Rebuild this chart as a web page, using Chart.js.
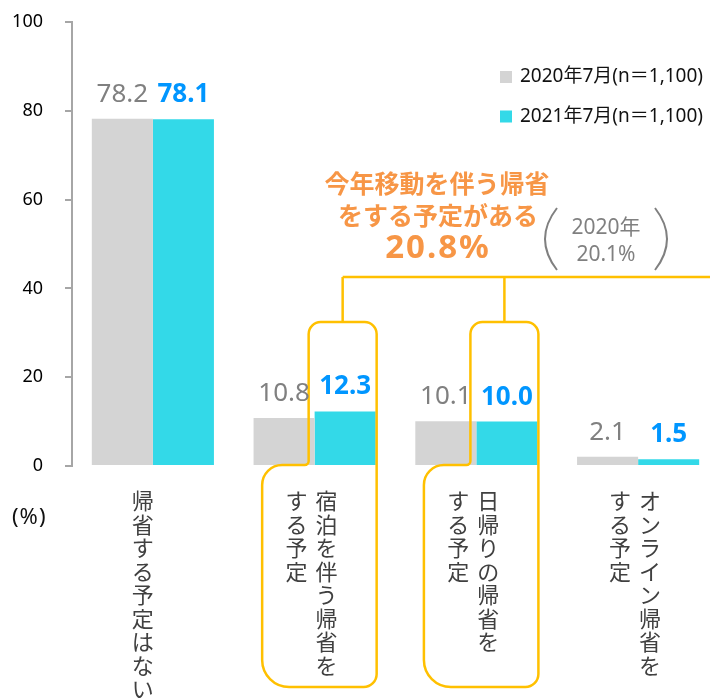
<!DOCTYPE html>
<html>
<head>
<meta charset="utf-8">
<script src="https://cdn.jsdelivr.net/npm/chart.js@4.4.1/dist/chart.umd.min.js"></script>
<style>
html, body { margin: 0; padding: 0; background: #fff; overflow: hidden; }
#wrap { width: 720px; height: 700px; position: relative; }
</style>
</head>
<body>
<div id="wrap"><canvas id="chart_homecoming"></canvas></div>
<script>
var categories = [
    ['帰省する予定はない'],
    ['宿泊を伴う帰省を', 'する予定'],
    ['日帰りの帰省を', 'する予定'],
    ['オンライン帰省を', 'する予定']
];
var seriesNames = ['2020年7月(n＝1,100)', '2021年7月(n＝1,100)'];
var values2020 = [78.2, 10.8, 10.1, 2.1];
var values2021 = [78.1, 12.3, 10.0, 1.5];
var yTicks = [0, 20, 40, 60, 80, 100];
var calloutLines = ['今年移動を伴う帰省', 'をする予定がある', '20.8%'];
var compareLines = ['2020年', '20.1%'];
var unitLabel = '(%)';
var calloutCategories = [1, 2];

var FONT = '"Noto Sans", "Noto Sans CJK JP", sans-serif';
var GRAY = '#d4d4d4';
var CYAN = '#33d9e8';
var YELLOW = '#ffc000';

Chart.defaults.font.family = FONT;

function roundedBox(ctx, bx, y0) {
    // outline round the 2021 bar, widening below the baseline
    var L1 = bx - 36.5, R = bx + 31.5, T = 322, N = y0 - 1, L2 = bx - 83, B = 687;
    ctx.beginPath();
    ctx.moveTo(L1, N - 6);
    ctx.arcTo(L1, T, R, T, 12);
    ctx.arcTo(R, T, R, B, 12);
    ctx.arcTo(R, B, L2, B, 13);
    ctx.arcTo(L2, B, L2, N, 27);
    ctx.arcTo(L2, N, L1, N, 20);
    ctx.arcTo(L1, N, L1, T, 4);
    ctx.closePath();
    ctx.stroke();
    return (L1 + R) / 2;
}

var overlay = {
    id: 'overlay',
    afterDatasetsDraw: (chart) => {
        const ctx = chart.ctx;
        const xs = chart.scales.x, ys = chart.scales.y;
        const y0 = ys.getPixelForValue(0);
        ctx.save();

        // yellow bracket and boxes
        ctx.strokeStyle = YELLOW;
        ctx.lineWidth = 2.5;
        const cyanMeta = chart.getDatasetMeta(1);
        const drops = calloutCategories.map(i => roundedBox(ctx, cyanMeta.data[i].x, y0));
        const lineY = 277;
        ctx.beginPath();
        ctx.moveTo(drops[0], lineY);
        ctx.lineTo(chart.width, lineY);
        drops.forEach(d => { ctx.moveTo(d, lineY); ctx.lineTo(d, 322); });
        ctx.stroke();

        // value labels
        ctx.textAlign = 'center';
        ctx.textBaseline = 'alphabetic';
        chart.data.datasets.forEach((ds, di) => {
            chart.getDatasetMeta(di).data.forEach((bar, i) => {
                ctx.font = (di ? 'bold ' : '') + '26px ' + FONT;
                ctx.fillStyle = di ? '#0096ff' : '#808080';
                ctx.fillText(ds.data[i].toFixed(1), bar.x, bar.y - 17);
            });
        });

        // vertical category labels
        ctx.fillStyle = '#404040';
        ctx.font = '22px "Noto Sans CJK JP", sans-serif';
        ctx.textBaseline = 'middle';
        categories.forEach((cols, i) => {
            const cx = xs.getPixelForValue(i);
            const shift = cols.length === 1 ? -10 : -3;
            cols.forEach((str, j) => {
                const colX = cx + shift + ((cols.length - 1) / 2 - j) * 30;
                Array.from(str).forEach((ch, k) => {
                    ctx.fillText(ch, colX, 501 + k * 23.5);
                });
            });
        });

        // legend
        ctx.textAlign = 'left';
        ctx.font = '19px ' + FONT;
        [GRAY, CYAN].forEach((c, i) => {
            const ly = 77 + i * 39.5;
            ctx.fillStyle = c;
            ctx.fillRect(500, ly - 6, 12, 12);
            ctx.fillStyle = '#111';
            ctx.fillText(seriesNames[i], 520, ly);
        });

        // unit
        ctx.font = '22px ' + FONT;
        ctx.letterSpacing = '1px';
        ctx.fillText(unitLabel, 12, 518);
        ctx.letterSpacing = '0px';

        // orange callout
        ctx.textAlign = 'center';
        ctx.fillStyle = '#f79646';
        ctx.font = 'bold 25px "Noto Sans CJK JP", sans-serif';
        ctx.fillText(calloutLines[0], 437, 183);
        ctx.fillText(calloutLines[1], 438, 215);
        ctx.font = 'bold 33px ' + FONT;
        ctx.letterSpacing = '2px';
        ctx.fillText(calloutLines[2], 438, 249);
        ctx.letterSpacing = '0px';

        // 2020 comparison in parentheses
        ctx.fillStyle = '#808080';
        ctx.font = '21px ' + FONT;
        ctx.fillText(compareLines[0], 606, 228);
        ctx.fillText(compareLines[1], 606, 255);
        ctx.strokeStyle = '#808080';
        ctx.lineWidth = 2;
        ctx.beginPath();
        ctx.moveTo(557, 208);
        ctx.quadraticCurveTo(533, 239, 557, 270);
        ctx.moveTo(655, 208);
        ctx.quadraticCurveTo(679, 239, 655, 270);
        ctx.stroke();

        ctx.restore();
    }
};

var chart_homecoming = new Chart(document.getElementById('chart_homecoming'), {
    type: 'bar',
    data: {
        labels: categories.map(c => c.join('')),
        datasets: [
            {
                label: seriesNames[0],
                data: values2020,
                backgroundColor: GRAY,
                categoryPercentage: 0.755,
                barPercentage: 1
            },
            {
                label: seriesNames[1],
                data: values2021,
                backgroundColor: CYAN,
                categoryPercentage: 0.755,
                barPercentage: 1
            }
        ]
    },
    options: {
        animation: false,
        responsive: true,
        maintainAspectRatio: false,
        layout: {
            padding: { top: 22, bottom: 234, left: 0, right: 1 }
        },
        plugins: {
            legend: { display: false },
            tooltip: { enabled: false }
        },
        scales: {
            x: {
                display: false
            },
            y: {
                min: 0,
                max: 100,
                afterFit: (scale) => {
                    scale.width = 72;
                    scale.paddingTop = 0;
                    scale.paddingBottom = 0;
                },
                afterBuildTicks: (scale) => { scale.ticks = yTicks.map(v => ({ value: v })); },
                ticks: {
                    color: '#000',
                    padding: 22,
                    font: { size: 18 }
                },
                grid: {
                    drawOnChartArea: false,
                    tickLength: 7,
                    color: '#a6a6a6',
                    lineWidth: 2
                },
                border: {
                    color: '#a6a6a6',
                    width: 2
                }
            }
        }
    },
    plugins: [overlay]
});
</script>
</body>
</html>
